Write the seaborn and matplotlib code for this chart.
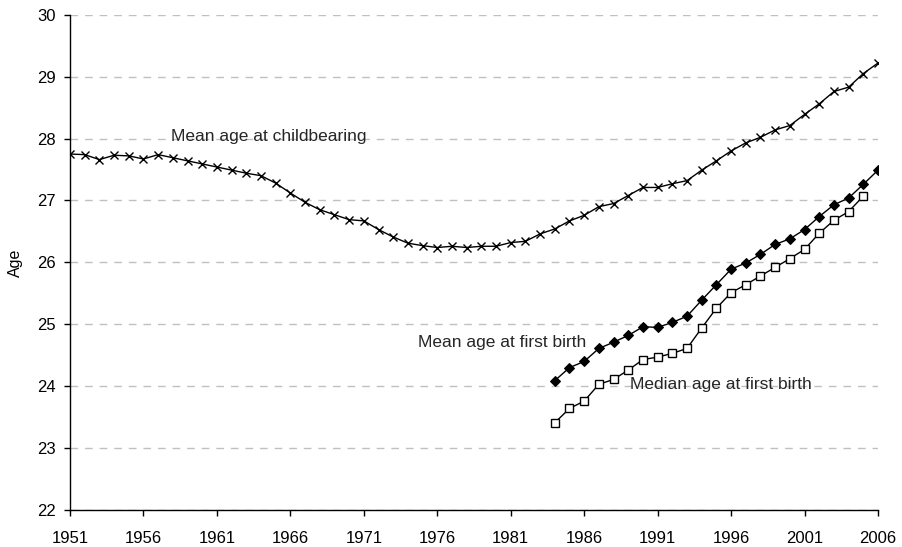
import pandas as pd
import matplotlib
matplotlib.use("Agg")
import matplotlib.pyplot as plt
import seaborn as sns

# Data
years_all = list(range(1951, 2007))
mean_childbearing = [27.75, 27.74, 27.66, 27.73, 27.72, 27.67, 27.74, 27.69, 27.64, 27.59,
                     27.54, 27.49, 27.44, 27.40, 27.28, 27.12, 26.97, 26.85, 26.77, 26.69,
                     26.67, 26.53, 26.41, 26.31, 26.27, 26.24, 26.26, 26.24, 26.26, 26.26,
                     26.32, 26.34, 26.46, 26.54, 26.67, 26.76, 26.90, 26.95, 27.08, 27.21,
                     27.21, 27.27, 27.32, 27.49, 27.64, 27.80, 27.93, 28.02, 28.14, 28.21,
                     28.39, 28.56, 28.76, 28.83, 29.05, 29.22]

years_first = list(range(1984, 2007))
mean_first_birth = [24.09, 24.30, 24.40, 24.61, 24.71, 24.82, 24.96, 24.95, 25.03, 25.13,
                    25.39, 25.64, 25.89, 25.99, 26.13, 26.29, 26.38, 26.53, 26.74, 26.93,
                    27.04, 27.26, 27.49]

years_median = list(range(1984, 2006))
median_first_birth = [23.41, 23.64, 23.76, 24.03, 24.11, 24.26, 24.43, 24.47, 24.53, 24.61,
                      24.94, 25.26, 25.51, 25.64, 25.78, 25.92, 26.06, 26.21, 26.47, 26.68,
                      26.82, 27.07]

x_ticks = list(range(1951, 2007, 5))
y_ticks = list(range(22, 31))

sns.set_style("white")
plt.rcParams['font.family'] = ['Liberation Sans', 'DejaVu Sans']

fig = plt.figure(figsize=(9.02, 5.47), dpi=100)
ax = fig.add_axes([0.0776, 0.0676, 0.8958, 0.9055])

# Mean age at childbearing
sns.lineplot(x=years_all, y=mean_childbearing, ax=ax, color='black', linewidth=1,
             marker='x', markersize=6, markeredgewidth=1, markeredgecolor='black')
# Mean age at first birth
sns.lineplot(x=years_first, y=mean_first_birth, ax=ax, color='black', linewidth=1,
             marker='D', markersize=5, markerfacecolor='black', markeredgecolor='black')
# Median age at first birth
sns.lineplot(x=years_median, y=median_first_birth, ax=ax, color='black', linewidth=1,
             marker='s', markersize=6, markerfacecolor='white', markeredgecolor='black',
             markeredgewidth=1)

ax.set_xlim(1951, 2006)
ax.set_ylim(22, 30)
ax.set_xticks(x_ticks)
ax.set_yticks(y_ticks)
ax.tick_params(axis='both', direction='out', length=4, width=1, color='black',
               labelsize=12, bottom=True, left=True, labelcolor='black')
ax.tick_params(axis='x', pad=11)
ax.tick_params(axis='y', pad=6)

ax.yaxis.grid(True, linestyle=(0, (5.5, 5)), color='#c0c0c0', linewidth=1)
ax.xaxis.grid(False)
ax.set_axisbelow(True)

for side in ['top', 'right']:
    ax.spines[side].set_visible(False)
for side in ['left', 'bottom']:
    ax.spines[side].set_color('black')
    ax.spines[side].set_linewidth(1)

ax.set_ylabel('Age', fontsize=11.5, color='black')
ax.yaxis.set_label_coords(-0.058, 0.5)
ax.set_xlabel('')

ax.text(1957.85, 28.03, 'Mean age at childbearing', fontsize=12.5, ha='left', va='center')
ax.text(1974.7, 24.70, 'Mean age at first birth', fontsize=12.5, ha='left', va='center')
ax.text(1989.15, 24.03, 'Median age at first birth', fontsize=12.5, ha='left', va='center')

fig.savefig('out.png', dpi=100)
